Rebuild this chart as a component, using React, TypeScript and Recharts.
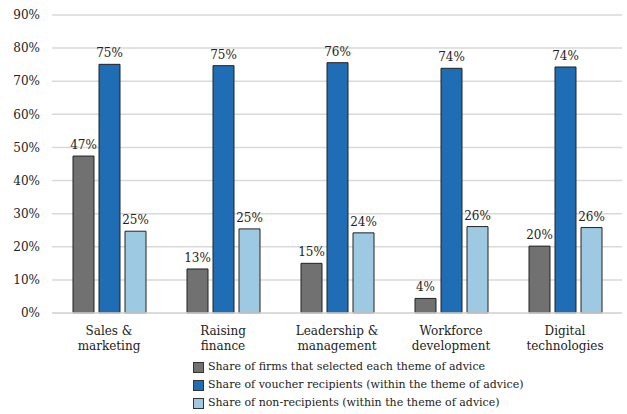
import { Bar, BarChart, CartesianGrid, LabelList, Legend, XAxis, YAxis } from "recharts";

const themes = [
  "Sales & marketing",
  "Raising finance",
  "Leadership & management",
  "Workforce development",
  "Digital technologies",
];
const themeLines = [
  ["Sales &", "marketing"],
  ["Raising", "finance"],
  ["Leadership &", "management"],
  ["Workforce", "development"],
  ["Digital", "technologies"],
];
const selectedShare = [47.4, 13.3, 15.0, 4.4, 20.2];
const recipientShare = [75.1, 74.7, 75.6, 73.9, 74.3];
const nonRecipientShare = [24.7, 25.4, 24.2, 26.1, 25.8];
const yTicks = [0, 10, 20, 30, 40, 50, 60, 70, 80, 90];

const seriesNames = [
  "Share of firms that selected each theme of advice",
  "Share of voucher recipients (within the theme of advice)",
  "Share of non-recipients (within the theme of advice)",
];
const COLORS = ["#717171", "#1f6db4", "#9dcae2"];
const FONT = "DejaVu Serif";
const FS = 12;

const data = themes.map((name, i) => ({
  name,
  selected: selectedShare[i],
  recipients: recipientShare[i],
  nonRecipients: nonRecipientShare[i],
}));

function CategoryTick(props: any) {
  const { x, y, payload } = props;
  const lines = themeLines[payload.index] ?? [payload.value];
  return (
    <text x={x} y={y} textAnchor="middle" fontFamily={FONT} fontSize={FS} fill="#222">
      {lines.map((line: string, i: number) => (
        <tspan key={line} x={x} dy={i === 0 ? 14 : 15}>
          {line}
        </tspan>
      ))}
    </text>
  );
}

function LegendContent() {
  return (
    <div style={{ paddingLeft: 193, fontFamily: FONT, fontSize: 11, color: "#222", lineHeight: "18px" }}>
      {seriesNames.map((name, i) => (
        <div key={name} style={{ display: "flex", alignItems: "center", height: 18 }}>
          <span
            style={{
              display: "inline-block",
              width: 9,
              height: 9,
              background: COLORS[i],
              border: "1px solid #333",
              marginRight: 4,
            }}
          />
          <span>{name}</span>
        </div>
      ))}
    </div>
  );
}

const labelFmt = (v: any) => `${Math.round(Number(v))}%`;
const labelStyle = { fontFamily: FONT, fontSize: FS, fill: "#222" };

export default function App() {
  return (
    <div style={{ position: "absolute", left: 0, top: 0, width: 627, height: 414, background: "#fff" }}>
      <BarChart
        width={627}
        height={414}
        data={data}
        margin={{ top: 15, right: 5, bottom: 0, left: 0 }}
        barSize={21}
        barGap={5}
      >
        <CartesianGrid vertical={false} stroke="#d9d9d9" strokeWidth={1.5} />
        <XAxis
          dataKey="name"
          axisLine={{ stroke: "#d9d9d9", strokeWidth: 1.5 }}
          tickLine={false}
          interval={0}
          height={45}
          tick={<CategoryTick />}
        />
        <YAxis
          domain={[0, 90]}
          ticks={yTicks}
          width={52}
          axisLine={false}
          tickLine={false}
          tickMargin={6}
          tickFormatter={(v) => `${v}%`}
          tick={{ fontFamily: FONT, fontSize: FS, fill: "#222" }}
        />
        <Legend verticalAlign="bottom" height={56} content={<LegendContent />} />
        <Bar dataKey="selected" name={seriesNames[0]} fill={COLORS[0]} stroke="#222" strokeWidth={1} isAnimationActive={false}>
          <LabelList dataKey="selected" position="top" offset={7} formatter={labelFmt} style={labelStyle} />
        </Bar>
        <Bar dataKey="recipients" name={seriesNames[1]} fill={COLORS[1]} stroke="#222" strokeWidth={1} isAnimationActive={false}>
          <LabelList dataKey="recipients" position="top" offset={7} formatter={labelFmt} style={labelStyle} />
        </Bar>
        <Bar dataKey="nonRecipients" name={seriesNames[2]} fill={COLORS[2]} stroke="#222" strokeWidth={1} isAnimationActive={false}>
          <LabelList dataKey="nonRecipients" position="top" offset={7} formatter={labelFmt} style={labelStyle} />
        </Bar>
      </BarChart>
    </div>
  );
}
